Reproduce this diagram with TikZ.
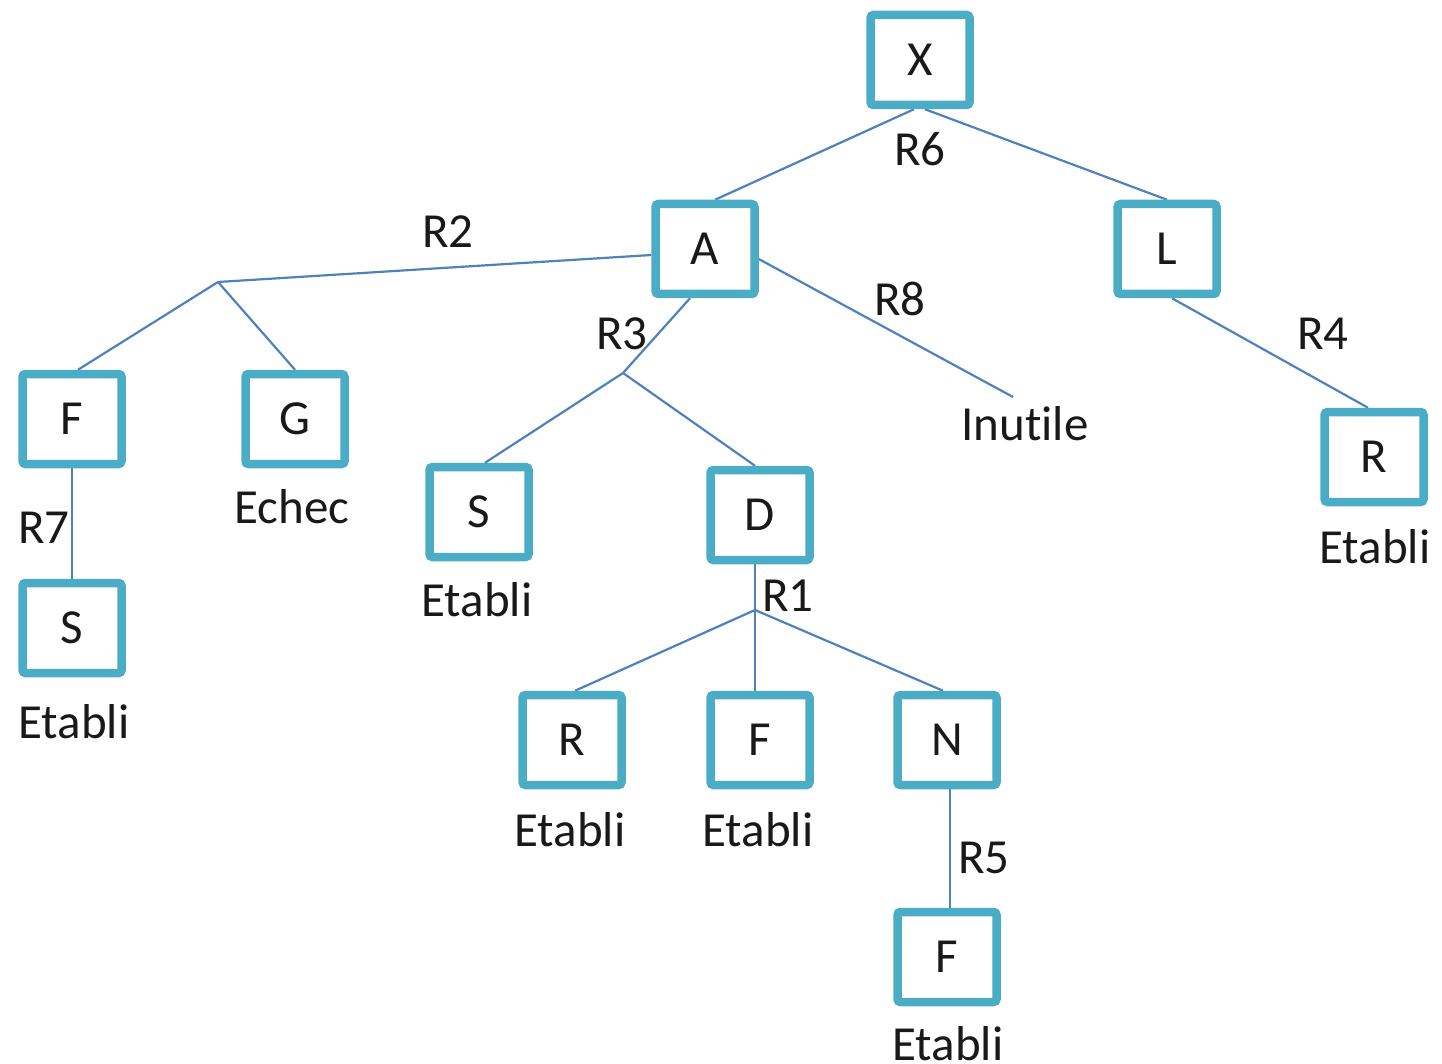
\documentclass[tikz,border=0pt]{standalone}
\usepackage{fontspec}
\setmainfont[Ligatures=NoCommon]{Carlito}
\usetikzlibrary{backgrounds}
\definecolor{boxcol}{HTML}{4BACC6}
\definecolor{linkcol}{HTML}{4F81BD}
\begin{document}
\begin{tikzpicture}[x=1pt,y=-1pt,
  every node/.style={font=\fontsize{49}{58}\selectfont, text=black!90},
  goal/.style={draw=boxcol, line width=8.5pt, rounded corners=3pt, fill=white,
    minimum width=99pt, minimum height=90pt, inner sep=0pt},
  lbl/.style={anchor=base, inner sep=0pt},
  link/.style={draw=linkcol, line width=2.2pt}]
\useasboundingbox (0,0) rectangle (1442,1064);

% goal boxes
\node[goal] (X) at (920,60) {X};
\node[goal] (A) at (705,249) {A};
\node[goal] (L) at (1167,249) {L};
\node[goal] (F1) at (72,419) {F};
\node[goal] (G) at (295,419) {G};
\node[goal] (S2) at (479,512) {S};
\node[goal] (D) at (760,515) {D};
\node[goal] (R1b) at (1374,457) {R};
\node[goal] (S1) at (72,628) {S};
\node[goal] (R2b) at (572,740) {R};
\node[goal] (F2) at (760,740) {F};
\node[goal] (N) at (947,740) {N};
\node[goal] (F3) at (947,957) {F};

% junction points of the rule branches
\coordinate (j2) at (218,282);
\coordinate (j3) at (623,373);
\coordinate (j1) at (755,610);
\coordinate (inu) at (1013,397);

% connectors, kept behind the boxes
\begin{pgfonlayer}{background}
\draw[link] ([xshift=-6pt]X.south) -- ([xshift=10pt]A.north);
\draw[link] ([xshift=5pt]X.south) -- (L.north);
\draw[link] ([yshift=-6pt]A.west) -- (j2);
\draw[link] (j2) -- ([xshift=6pt]F1.north);
\draw[link] (j2) -- (G.north);
\draw[link] ([xshift=-15pt]A.south) -- (j3);
\draw[link] (j3) -- ([xshift=6pt]S2.north);
\draw[link] (j3) -- ([xshift=-5pt]D.north);
\draw[link] ([yshift=-10pt]A.east) -- (inu);
\draw[link] ([xshift=5pt]L.south) -- ([xshift=-6pt]R1b.north);
\draw[link] (F1.south) -- (S1.north);
\draw[link] ([xshift=-5pt]D.south) -- (j1);
\draw[link] (j1) -- ([xshift=3pt]R2b.north);
\draw[link] (j1) -- ([xshift=-5pt]F2.north);
\draw[link] (j1) -- ([xshift=-4pt]N.north);
\draw[link] ([xshift=3pt]N.south) -- ([xshift=3pt]F3.north);
\end{pgfonlayer}

% rule labels
\node[lbl] (r6) at (920,166) {R6};
\node[lbl] (r2) at (448,248) {R2};
\node[lbl] (r8) at (900,316) {R8};
\node[lbl] (r3) at (622,349) {R3};
\node[lbl] (r4) at (1323,349) {R4};
\node[lbl] (r7) at (44,543) {R7};
\node[lbl] (r1) at (788,611) {R1};
\node[lbl] (r5) at (984,873) {R5};

% outcome labels
\node[lbl] (t1) at (1025,440) {Inutile};
\node[lbl] (t2) at (292,523) {Echec};
\node[lbl] (t3) at (477,616) {Etabli};
\node[lbl] (t4) at (1375,563) {Etabli};
\node[lbl] (t5) at (74,738) {Etabli};
\node[lbl] (t6) at (570,846) {Etabli};
\node[lbl] (t7) at (758,846) {Etabli};
\node[lbl] (t8) at (948,1060) {Etabli};
\end{tikzpicture}
\end{document}
